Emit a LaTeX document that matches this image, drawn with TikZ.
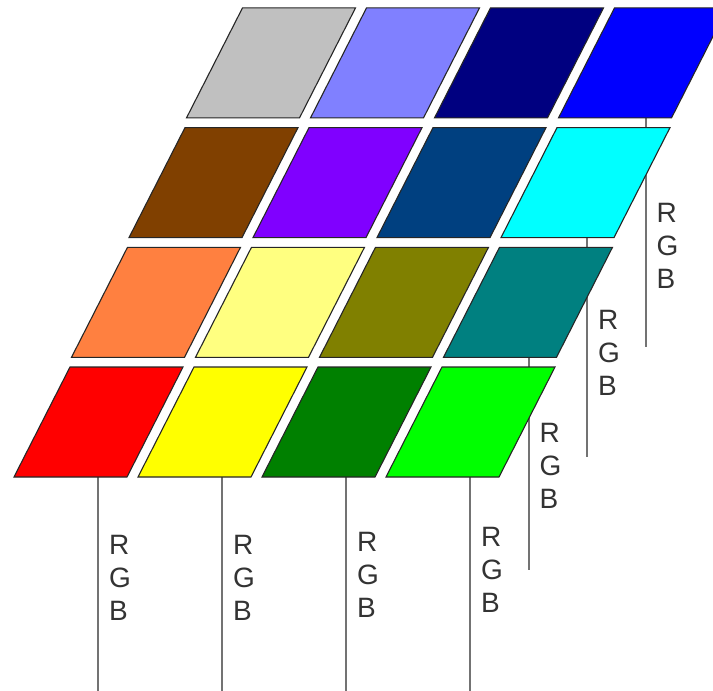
\documentclass[tikz,border=0pt]{standalone}
\usepackage{fontspec}
\setmainfont{Liberation Sans}
\definecolor{k30}{HTML}{C0C0C0}
\definecolor{k31}{HTML}{8080FF}
\definecolor{k32}{HTML}{000080}
\definecolor{k33}{HTML}{0000FF}
\definecolor{k20}{HTML}{804000}
\definecolor{k21}{HTML}{8000FF}
\definecolor{k22}{HTML}{004080}
\definecolor{k23}{HTML}{00FFFF}
\definecolor{k10}{HTML}{FF8040}
\definecolor{k11}{HTML}{FFFF80}
\definecolor{k12}{HTML}{808000}
\definecolor{k13}{HTML}{008080}
\definecolor{k00}{HTML}{FF0000}
\definecolor{k01}{HTML}{FFFF00}
\definecolor{k02}{HTML}{008000}
\definecolor{k03}{HTML}{00FF00}
\begin{document}
\begin{tikzpicture}[x=1pt,y=-1pt,
  cell/.style={draw=black!85,line width=1.1pt,line join=miter},
  stem/.style={draw=black!55,line width=2pt},
  lbl/.style={text=black!80,font=\fontsize{28}{33}\selectfont,align=left,inner sep=0pt,anchor=west}]
\useasboundingbox (0,0) rectangle (713,691);
\clip (0,0) rectangle (713,691);
% stems (drawn first, behind the cells)
\foreach \r/\c/\yend/\ty [count=\i] in {0/0/691/578, 0/1/691/578, 0/2/691/575, 0/3/691/570, 1/3/570/466, 2/3/457/353, 3/3/347/246}{
  \pgfmathsetmacro{\xs}{14+124*\c+57.5*\r+84+\r}
  \pgfmathsetmacro{\ys}{477-119.7*\r}
  \coordinate (s\i) at (\xs,\ys);
  \coordinate (e\i) at (\xs,\yend);
  \draw[stem] (s\i) -- (e\i);
}
% cells
\foreach \r in {0,1,2,3}{
  \foreach \c in {0,1,2,3}{
    \pgfmathsetmacro{\xo}{14+124*\c+57.5*\r}
    \pgfmathsetmacro{\yo}{477-119.7*\r}
    \coordinate (bl\r\c) at (\xo,\yo);
    \coordinate (br\r\c) at (\xo+113,\yo);
    \coordinate (tr\r\c) at (\xo+169,\yo-110);
    \coordinate (tl\r\c) at (\xo+56,\yo-110);
    \draw[cell,fill=k\r\c] (bl\r\c) -- (br\r\c) -- (tr\r\c) -- (tl\r\c) -- cycle;
  }
}
% labels
\foreach \r/\c/\yend/\ty [count=\i] in {0/0/691/578, 0/1/691/578, 0/2/691/575, 0/3/691/570, 1/3/570/466, 2/3/457/353, 3/3/347/246}{
  \pgfmathsetmacro{\xs}{14+124*\c+57.5*\r+84+\r}
  \node[lbl] (t\i) at (\xs+11,\ty) {R\\G\\B};
}
\end{tikzpicture}
\end{document}
